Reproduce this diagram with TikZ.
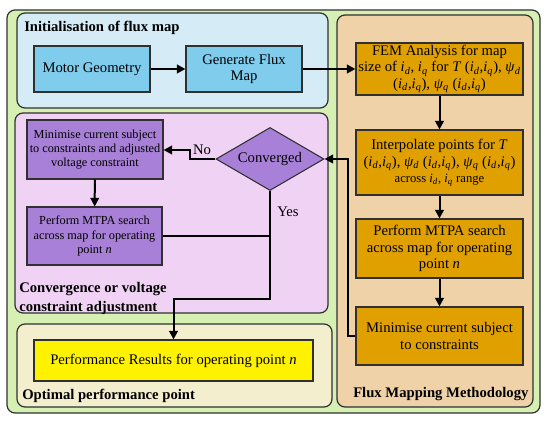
\documentclass[tikz,border=0pt]{standalone}
\usepackage{fontspec}
\setmainfont{Liberation Serif}
\usetikzlibrary{shapes.geometric,arrows.meta,fit}
\newcommand{\vid}{\textit{i}\textsubscript{\textit{d}}}
\newcommand{\viq}{\textit{i}\textsubscript{\textit{q}}}
\newcommand{\psd}{\textit{ψ}\textsubscript{\textit{d}}}
\newcommand{\psq}{\textit{ψ}\textsubscript{\textit{q}}}
\definecolor{outerg}{HTML}{D6F0B4}
\definecolor{bluereg}{HTML}{D5ECF6}
\definecolor{bluebox}{HTML}{80CCEC}
\definecolor{tanreg}{HTML}{EFD2A8}
\definecolor{orangebox}{HTML}{E0A000}
\definecolor{purpreg}{HTML}{F0D2F4}
\definecolor{purpbox}{HTML}{A880D8}
\definecolor{beigereg}{HTML}{F2EECE}
\definecolor{edge}{HTML}{303030}
\tikzset{
  region/.style={draw=edge, line width=0.9pt, rounded corners=6pt},
  box/.style={draw=edge, line width=0.8pt, inner sep=0pt, align=center},
  title/.style={font=\fontsize{11}{14.2}\selectfont\bfseries, inner sep=0pt, align=left},
  small/.style={font=\fontsize{9.2}{10.6}\selectfont},
  line/.style={line width=1.5pt, draw=black},
  arr/.style={line width=1.5pt, -{Triangle[length=6.5pt,width=6.5pt]}},
}
\begin{document}
\begin{tikzpicture}[x=0.75pt, y=-0.75pt, font=\fontsize{11}{12.5}\selectfont]
\useasboundingbox (0,0) rectangle (550,424);
% regions
\draw[region, fill=outerg] (7,10) rectangle (540,413);
\draw[region, fill=bluereg] (17,13) rectangle (328,108);
\draw[region, fill=tanreg] (337,15) rectangle (533,407);
\draw[region, fill=purpreg] (15,113) rectangle (328,313);
\draw[region, fill=beigereg] (17,324) rectangle (332,407);
% titles
\node[title, anchor=west] (t1) at (24,28) {Initialisation of flux map};
\node[title, anchor=north west] (t2) at (19,282) {Convergence or voltage\\constraint adjustment};
\node[title, anchor=west] (t3) at (22,396) {Optimal performance point};
\node[title, anchor=west] (t4) at (353,394) {Flux Mapping Methodology};
% blue boxes
\node[box, fill=bluebox, fit={(34,46)(150,92)}] (mg) {};
\node at (mg.center) {Motor Geometry};
\node[box, fill=bluebox, fit={(186,46)(302,92)}] (gfm) {};
\node[align=center] at (gfm.center) {Generate Flux\\Map};
% orange boxes
\node[box, fill=orangebox, fit={(356,43)(523,95)}] (fem) {};
\node[align=center] at (fem.center) {FEM Analysis for map\\size of \vid, \viq{} for \textit{T} (\vid,\viq), \psd\\(\vid,\viq), \psq{} (\vid,\viq)};
\node[box, fill=orangebox, fit={(356,130)(523,195)}] (interp) {};
\node[align=center] at (interp.center) {Interpolate points for \textit{T}\\(\vid,\viq), \psd{} (\vid,\viq), \psq{} (\vid,\viq)\\{\fontsize{9.5}{11}\selectfont across \vid, \viq{} range}};
\node[box, fill=orangebox, fit={(356,219)(523,278)}] (mtpaR) {};
\node[align=center] at (mtpaR.center) {Perform MTPA search\\across map for operating\\point \textit{n}};
\node[box, fill=orangebox, fit={(356,307)(523,365)}] (minR) {};
\node[align=center] at (minR.center) {Minimise current subject\\to constraints};
% purple boxes
\node[box, fill=purpbox, fit={(27,120)(163,179)}] (minL) {};
\node[small, align=center] at (minL.center) {Minimise current subject\\to constraints and adjusted\\voltage constraint};
\node[box, fill=purpbox, fit={(27,207)(162,265)}] (mtpaL) {};
\node[small, align=center] at (mtpaL.center) {Perform MTPA search\\across map for operating\\point \textit{n}};
\node[diamond, draw=edge, line width=0.8pt, fill=purpbox, aspect=2, inner sep=0pt,
      minimum width=108*0.75pt, minimum height=63*0.75pt] (conv) at (270,159) {Converged};
% result box
\node[box, fill=yellow, fit={(34,340)(313,381)}] (perf) {};
\node at (perf.center) {Performance Results for operating point \textit{n}};
% connectors
\draw[arr] (mg) -- (gfm);
\draw[arr] (gfm.east) -- (fem.west);
\draw[arr] (fem) -- (interp);
\draw[arr] (interp) -- (mtpaR);
\draw[arr] (mtpaR) -- (minR);
\coordinate (fb) at (348,336);
\draw[arr] (minR.west |- fb) -- (fb) |- (conv.east);
\coordinate (nok) at (190,150);
\draw[arr] (conv.west) -| (nok) -- (nok -| minL.east);
\node (no) at (202,150) {No};
\draw[arr] (minL) -- (mtpaL);
\coordinate (yb) at (270,299);
\draw[arr] (conv.south) -- (yb) -| (perf.north);
\draw[line] (mtpaL.east) -- (mtpaL.east -| conv.south);
\node (yes) at (288,212) {Yes};
\end{tikzpicture}
\end{document}
